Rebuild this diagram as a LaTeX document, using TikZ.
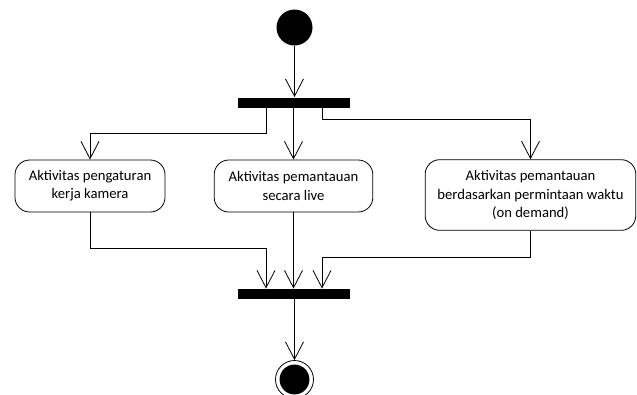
\documentclass[tikz,border=0pt]{standalone}
\usepackage{fontspec}
\setmainfont{Carlito}
\usetikzlibrary{arrows.meta,calc}
\begin{document}
\begin{tikzpicture}[x=0.75pt,y=-0.75pt,
  line width=0.6pt,
  arr/.style={-{Straight Barb[length=13pt,width=13.5pt,line width=0.6pt]}},
  actbox/.style={draw,rounded corners=11pt,align=center,inner sep=2pt,
    font=\fontsize{11}{13.6}\selectfont},
  bar/.style={fill=black,draw=none,minimum width=84pt,minimum height=7.5pt,inner sep=0pt},
]
\useasboundingbox (0,0) rectangle (637,394);
% start
\node[circle,fill=black,minimum size=27pt,inner sep=0pt] (start) at (294.5,27.5) {};
% fork and join bars
\node[bar] (fork) at (294,102.5) {};
\node[bar] (join) at (294,294) {};
% activities
\node[actbox,minimum width=112.5pt,minimum height=39pt] (b1) at (90,186)
  {Aktivitas pengaturan\\kerja kamera};
\node[actbox,minimum width=119pt,minimum height=39pt] (b2) at (293.5,186)
  {Aktivitas pemantauan\\secara live};
\node[actbox,minimum width=158pt,minimum height=53pt] (b3) at (530.5,195)
  {Aktivitas pemantauan\\berdasarkan permintaan waktu\\(on demand)};
% end
\node[circle,draw,minimum size=28.5pt,inner sep=0pt] (end) at (294.5,379.5) {};
\fill (end.center) circle (11.2pt);
% helper coordinates
\coordinate (f1) at (266,133);
\coordinate (f3) at (322,119);
\coordinate (j1) at (266,248);
\coordinate (j3) at (322,257);
% connectors
\draw[arr] (start.south) -- (fork.north -| start.south);
\draw[arr] (fork.south -| f1) -- (f1) -| (b1.north);
\draw[arr] (fork.south -| b2.north) -- (b2.north);
\draw[arr] (fork.south -| f3) -- (f3) -| (b3.north);
\draw[arr] (b1.south) |- (j1) -- (join.north -| j1);
\draw[arr] (b2.south) -- (join.north -| b2.south);
\draw[arr] (b3.south) |- (j3) -- (join.north -| j3);
\draw[arr] (join.south -| end.north) -- (end.north);
\end{tikzpicture}
\end{document}
